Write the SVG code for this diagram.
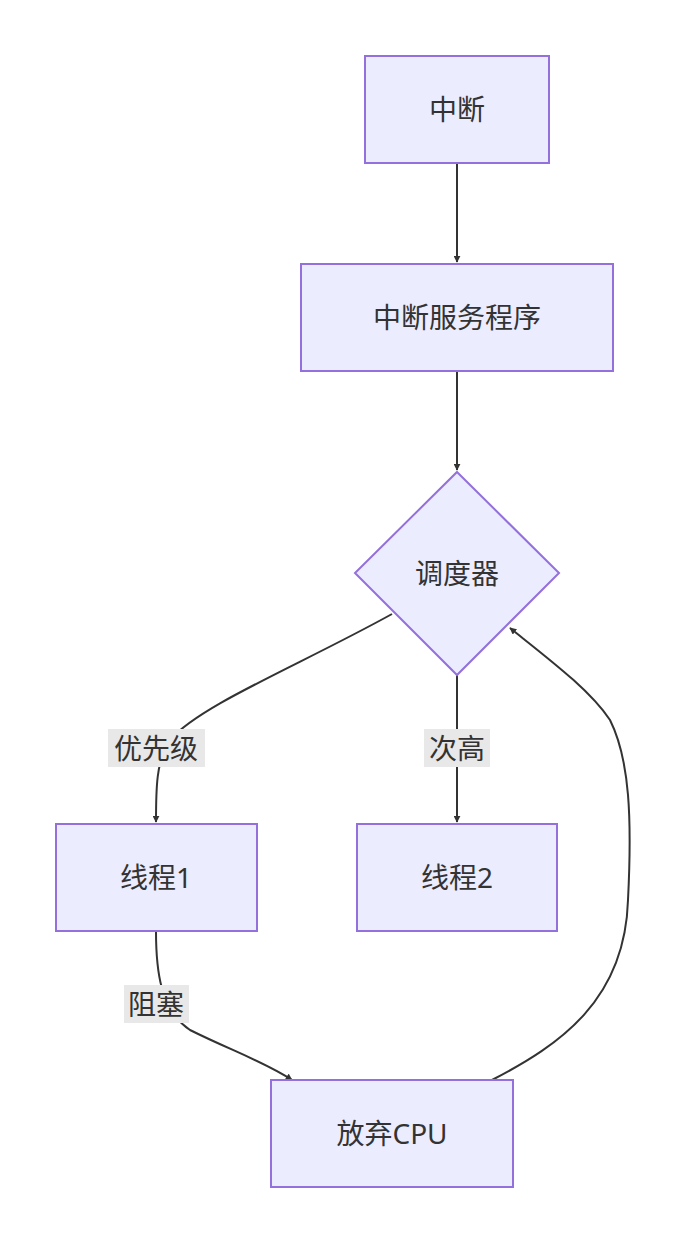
<svg xmlns="http://www.w3.org/2000/svg" width="683" height="1244" viewBox="0 0 683 1244">
<style>
.n{fill:#ececff;stroke:#9370db;stroke-width:2}
.t{font-family:"Noto Sans","Noto Sans CJK SC",sans-serif;font-size:28px;fill:#333;text-anchor:middle;dominant-baseline:central}
.e{fill:none;stroke:#333;stroke-width:2}
.lb{fill:#e8e8e8}
</style>
<defs><marker id="a" viewBox="0 0 10 10" refX="9" refY="5" markerWidth="7" markerHeight="7" orient="auto" markerUnits="userSpaceOnUse"><path d="M0,0L10,5L0,10z" fill="#333"/></marker></defs>
<rect width="683" height="1244" fill="#fff"/>
<g id="edges">
<path class="e" marker-end="url(#a)" d="M457,163V262" transform="scale(1)"/>
<path class="e" d="M457,371V470" marker-end="url(#a)"/>
<path class="e" d="M392,614C300,665 200,705 170,740 C156,760 156,790 156,822" marker-end="url(#a)"/>
<path class="e" d="M457,675V822" marker-end="url(#a)"/>
<path class="e" d="M156,931C156,970 160,1010 190,1030 C230,1050 265,1062 292,1080" marker-end="url(#a)"/>
<path class="e" d="M492,1080C560,1045 625,1000 628,900 C632,820 630,760 610,720 C590,690 550,660 510,628" marker-end="url(#a)"/>
<rect class="lb" x="108" y="729" width="97" height="38"/><text class="t" x="156" y="748">优先级</text>
<rect class="lb" x="424" y="729" width="66" height="38"/><text class="t" x="457" y="748">次高</text>
<rect class="lb" x="124" y="985" width="65" height="38"/><text class="t" x="156" y="1004">阻塞</text>
</g>
<g id="n1"><rect class="n" x="365" y="56" width="184" height="107"/><text class="t" x="457" y="109">中断</text></g>
<g id="n2"><rect class="n" x="301" y="264" width="312" height="107"/><text class="t" x="457" y="317">中断服务程序</text></g>
<g id="n3"><path class="n" d="M457,472L559,573L457,675L355,573Z"/><text class="t" x="457" y="573">调度器</text></g>
<g id="n4"><rect class="n" x="56" y="824" width="201" height="107"/><text class="t" x="156" y="877">线程1</text></g>
<g id="n5"><rect class="n" x="357" y="824" width="200" height="107"/><text class="t" x="457" y="877">线程2</text></g>
<g id="n6"><rect class="n" x="271" y="1080" width="242" height="107"/><text class="t" x="392" y="1133">放弃CPU</text></g>
</svg>
